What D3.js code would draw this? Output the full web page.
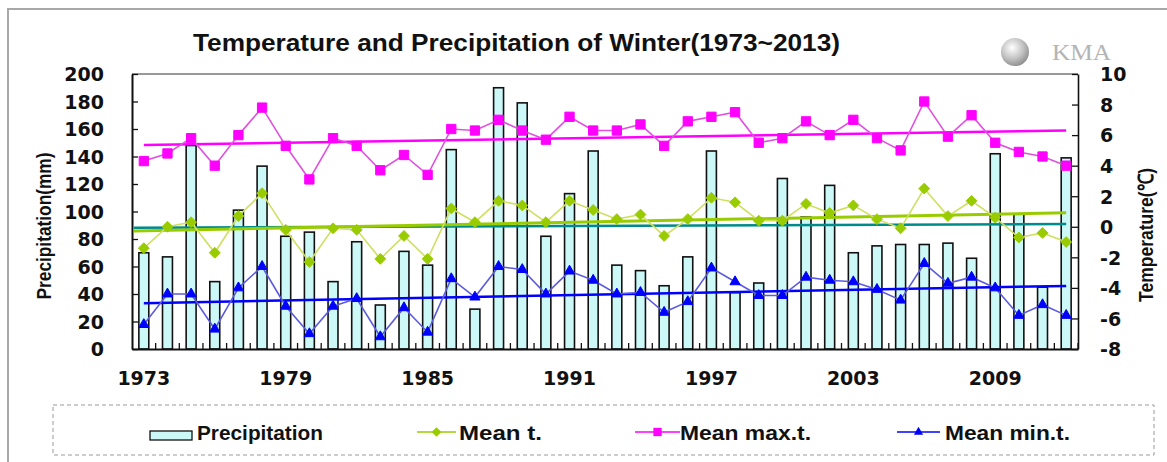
<!DOCTYPE html>
<html>
<head>
<meta charset="utf-8">
<script src="https://cdn.jsdelivr.net/npm/d3@7"></script>
<style>
	body { margin: 0; background: #fff; }
	svg { display: block; }
	.num { font-family: "DejaVu Sans", sans-serif; font-weight: bold; font-size: 19px; fill: #111; }
	.lbl { font-family: "Liberation Sans", Arial, sans-serif; font-weight: bold; fill: #111; }
</style>
</head>
<body>
<div id="chart"></div>
<script>
// winters 1973 ~ 2012 (Dec-Feb)
var years = [1973,1974,1975,1976,1977,1978,1979,1980,1981,1982,1983,1984,1985,1986,1987,1988,1989,1990,1991,1992,
	1993,1994,1995,1996,1997,1998,1999,2000,2001,2002,2003,2004,2005,2006,2007,2008,2009,2010,2011,2012];
var yearLabels = [1973,1979,1985,1991,1997,2003,2009];

var precip = [70,67,148,49,101,133,82,85,49,78,32,71,61,145,29,190,179,82,113,144,
	61,57,46,67,144,41,48,124,96,119,70,75,76,76,77,66,142,98,45,139];
var meanT = [-1.4,0.0,0.3,-1.7,0.7,2.2,-0.2,-2.3,-0.1,-0.2,-2.1,-0.6,-2.1,1.2,0.3,1.7,1.4,0.3,1.7,1.1,
	0.5,0.8,-0.6,0.5,1.9,1.6,0.4,0.4,1.5,0.9,1.4,0.5,-0.1,2.5,0.7,1.7,0.6,-0.7,-0.4,-1.0];
var maxT = [4.3,4.8,5.8,4.0,6.0,7.8,5.3,3.1,5.8,5.3,3.7,4.7,3.4,6.4,6.3,7.0,6.3,5.7,7.2,6.3,
	6.3,6.7,5.3,6.9,7.2,7.5,5.5,5.8,6.9,6.0,7.0,5.8,5.0,8.2,5.9,7.3,5.5,4.9,4.6,4.0];
var minT = [-6.4,-4.4,-4.4,-6.7,-4.0,-2.6,-5.2,-7.0,-5.2,-4.7,-7.2,-5.3,-6.9,-3.4,-4.6,-2.6,-2.8,-4.4,-2.9,-3.5,
	-4.4,-4.3,-5.6,-4.9,-2.7,-3.6,-4.5,-4.5,-3.3,-3.5,-3.6,-4.1,-4.8,-2.4,-3.7,-3.3,-4.0,-5.8,-5.1,-5.8];

// trend lines, start / end value (first and last winter)
var trendMax = [5.35, 6.3];
var trendMean = [-0.27, 0.92];
var trendMin = [-5.0, -3.87];
var normalMean = [-0.06, 0.18];

var precipTicks = [0,20,40,60,80,100,120,140,160,180,200];
var tempTicks = [-8,-6,-4,-2,0,2,4,6,8,10];

var width = 1167, height = 462;
var plot = {left: 132, right: 1078, top: 74, bottom: 349};

var svg = d3.select("#chart").append("svg")
	.attr("width", width)
	.attr("height", height);

// outer frame
svg.append("rect")
	.attr("x", 8).attr("y", 9)
	.attr("width", 1180).attr("height", 470)
	.attr("fill", "none")
	.attr("stroke", "#a8a8a8")
	.attr("stroke-width", 2);

var x = d3.scaleBand()
	.domain(years)
	.range([plot.left, plot.right])
	.paddingInner(0.58)
	.paddingOuter(0.29);

var yP = d3.scaleLinear().domain([0, 200]).range([plot.bottom, plot.top]);
var yT = d3.scaleLinear().domain([-8, 10]).range([plot.bottom, plot.top]);

function cx(d) { return x(d) + x.bandwidth() / 2; }

// bars
svg.append("g").selectAll("rect")
	.data(precip)
	.enter().append("rect")
	.attr("x", function(d, i) { return x(years[i]); })
	.attr("y", function(d) { return yP(d); })
	.attr("width", x.bandwidth())
	.attr("height", function(d) { return yP(0) - yP(d); })
	.attr("fill", "#ccf8f8")
	.attr("stroke", "#111")
	.attr("stroke-width", 1.6);

// frame top
svg.append("line")
	.attr("x1", plot.left).attr("x2", plot.right)
	.attr("y1", plot.top).attr("y2", plot.top)
	.attr("stroke", "#777").attr("stroke-width", 1.5);

// left axis
var axL = svg.append("g")
	.attr("transform", "translate(" + plot.left + ",0)")
	.call(d3.axisLeft(yP).tickValues(precipTicks).tickSizeInner(-6).tickSizeOuter(0).tickPadding(28)
		.tickFormat(function(d) { return String(d); }));
axL.select(".domain").attr("stroke", "#111").attr("stroke-width", 2);
axL.selectAll("line").attr("stroke", "#111").attr("stroke-width", 1.3);
axL.selectAll("text").attr("class", "num").attr("dy", "0.36em");

// right axis
var axR = svg.append("g")
	.attr("transform", "translate(" + plot.right + ",0)")
	.call(d3.axisRight(yT).tickValues(tempTicks).tickSizeInner(-6).tickSizeOuter(0).tickPadding(22)
		.tickFormat(function(d) { return String(d); }));
axR.select(".domain").attr("stroke", "#111").attr("stroke-width", 1.6);
axR.selectAll("line").attr("stroke", "#111").attr("stroke-width", 1.3);
axR.selectAll("text").attr("class", "num").attr("dy", "0.36em");

// bottom axis
var axB = svg.append("g")
	.attr("transform", "translate(0," + plot.bottom + ")")
	.call(d3.axisBottom(x).tickValues(yearLabels).tickSize(0).tickPadding(23));
axB.select(".domain").attr("stroke", "#111").attr("stroke-width", 2);
axB.selectAll("text").attr("class", "num");

svg.append("g").selectAll("line")
	.data(years)
	.enter().append("line")
	.attr("x1", function(d) { return cx(d) + x.step() / 2; })
	.attr("x2", function(d) { return cx(d) + x.step() / 2; })
	.attr("y1", plot.bottom)
	.attr("y2", plot.bottom - 6)
	.attr("stroke", "#111")
	.attr("stroke-width", 1.3);

// trend lines
function trend(vals, color, w, fromAxis) {
	svg.append("line")
		.attr("x1", fromAxis ? plot.left + 2 : cx(years[0]))
		.attr("x2", cx(years[years.length - 1]))
		.attr("y1", yT(vals[0]))
		.attr("y2", yT(vals[1]))
		.attr("stroke", color)
		.attr("stroke-width", w);
}
trend(normalMean, "#008b8b", 2.5, true);
trend(trendMean, "#99cc00", 3, true);
trend(trendMax, "#ff00ff", 2.5, false);
trend(trendMin, "#0000ff", 2.5, false);

// series
var line = d3.line()
	.x(function(d, i) { return cx(years[i]); })
	.y(function(d) { return yT(d); });

var series = [
	{vals: meanT, line: "#cfe060", color: "#99cc00", sym: d3.symbolDiamond2, size: 75},
	{vals: maxT, line: "#e050e0", color: "#ff00ff", sym: d3.symbolSquare2, size: 110},
	{vals: minT, line: "#5a5ae0", color: "#0000ff", sym: d3.symbolTriangle2, size: 75}
];

series.forEach(function(s) {
	svg.append("path")
		.datum(s.vals)
		.attr("d", line)
		.attr("fill", "none")
		.attr("stroke", s.line)
		.attr("stroke-width", 1.6);
});

series.forEach(function(s) {
	svg.append("g").selectAll("path")
		.data(s.vals)
		.enter().append("path")
		.attr("transform", function(d, i) { return "translate(" + cx(years[i]) + "," + yT(d) + ")"; })
		.attr("d", d3.symbol().type(s.sym).size(s.size))
		.attr("fill", s.color)
		.attr("stroke", s.color)
		.attr("stroke-width", 1);
});

// titles
svg.append("text")
	.attr("class", "lbl")
	.attr("x", 193).attr("y", 51)
	.attr("font-size", 24)
	.attr("textLength", 647)
	.attr("lengthAdjust", "spacingAndGlyphs")
	.text("Temperature and Precipitation of Winter(1973~2013)");

svg.append("text")
	.attr("class", "lbl")
	.attr("transform", "translate(51,226) rotate(-90)")
	.attr("text-anchor", "middle")
	.attr("font-size", 21)
	.attr("textLength", 147)
	.attr("lengthAdjust", "spacingAndGlyphs")
	.text("Precipitation(mm)");

svg.append("text")
	.attr("class", "lbl")
	.attr("transform", "translate(1153,235) rotate(-90)")
	.attr("text-anchor", "middle")
	.attr("font-size", 21)
	.attr("textLength", 134)
	.attr("lengthAdjust", "spacingAndGlyphs")
	.text("Temperature(℃)");

// KMA logo
var grad = svg.append("defs").append("radialGradient")
	.attr("id", "ball").attr("cx", "40%").attr("cy", "35%").attr("r", "70%");
grad.append("stop").attr("offset", "0%").attr("stop-color", "#ffffff");
grad.append("stop").attr("offset", "55%").attr("stop-color", "#c4c4c4");
grad.append("stop").attr("offset", "100%").attr("stop-color", "#8a8a8a");
svg.append("circle")
	.attr("cx", 1015).attr("cy", 52).attr("r", 14)
	.attr("fill", "url(#ball)");
svg.append("text")
	.attr("x", 1052).attr("y", 60)
	.attr("font-family", "'Liberation Serif', serif")
	.attr("font-size", 24)
	.attr("textLength", 59)
	.attr("lengthAdjust", "spacingAndGlyphs")
	.attr("fill", "#b4b4b4")
	.text("KMA");

// legend
svg.append("rect")
	.attr("x", 53).attr("y", 405)
	.attr("width", 1101).attr("height", 50)
	.attr("fill", "none")
	.attr("stroke", "#999")
	.attr("stroke-dasharray", "4,3");

var ly = 432;
svg.append("rect")
	.attr("x", 150).attr("y", ly - 1)
	.attr("width", 42).attr("height", 9)
	.attr("fill", "#ccf8f8")
	.attr("stroke", "#111")
	.attr("stroke-width", 1.3);

var legendItems = [
	{name: "Precipitation", tx: 197, tl: 126},
	{name: "Mean t.", tx: 459, tl: 83, x0: 417, x1: 456, s: series[0]},
	{name: "Mean max.t.", tx: 680, tl: 131, x0: 635, x1: 680, s: series[1]},
	{name: "Mean min.t.", tx: 945, tl: 125, x0: 897, x1: 940, s: series[2]}
];

legendItems.forEach(function(it) {
	if (it.s) {
		svg.append("line")
			.attr("x1", it.x0).attr("x2", it.x1)
			.attr("y1", ly).attr("y2", ly)
			.attr("stroke", it.s.color)
			.attr("stroke-width", 1.6);
		svg.append("path")
			.attr("transform", "translate(" + ((it.x0 + it.x1) / 2) + "," + ly + ")")
			.attr("d", d3.symbol().type(it.s.sym).size(it.s.size * 0.8))
			.attr("fill", it.s.color);
	}
	svg.append("text")
		.attr("class", "lbl")
		.attr("x", it.tx).attr("y", ly + 8)
		.attr("font-size", 21)
		.attr("textLength", it.tl)
		.attr("lengthAdjust", "spacingAndGlyphs")
		.text(it.name);
});
</script>
</body>
</html>
